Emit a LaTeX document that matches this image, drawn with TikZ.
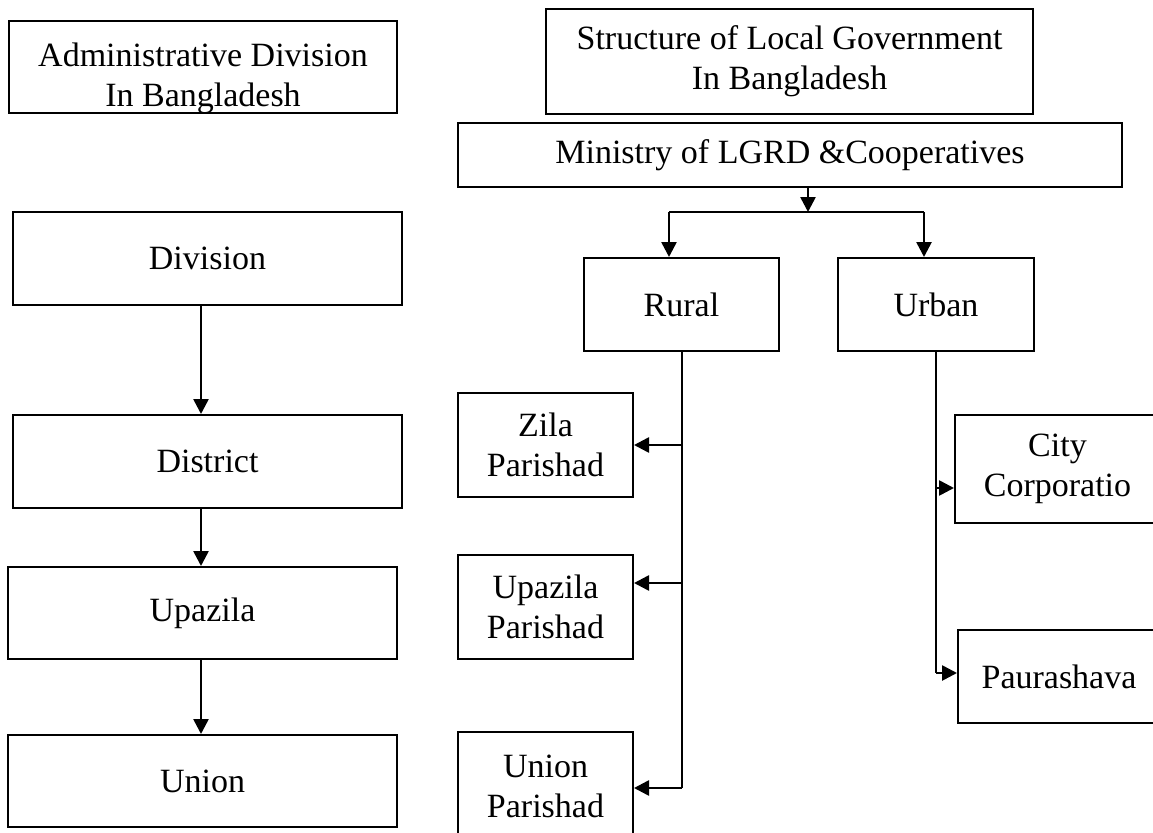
\documentclass[tikz,border=0pt]{standalone}
\usepackage{fontspec}
\setmainfont{Liberation Serif}
\usetikzlibrary{arrows.meta}
\begin{document}
\begin{tikzpicture}[x=1pt,y=-1pt,
  font=\fontsize{34}{40}\selectfont,
  box/.style 2 args={draw, line width=2pt, inner sep=0pt, align=center,
    minimum width=#1, minimum height=#2},
  arr/.style={line width=2.6pt, -{Triangle[length=15pt,width=15pt]}},
  ln/.style={line width=2pt}]
\fill[white] (0,0) rectangle (1153,832);
\useasboundingbox (0,0) rectangle (1153,832);
\clip (0,0) rectangle (1153,832);

% left column
\node[box={388pt}{92pt}, path picture={
  \node[anchor=base] (adminA) at ([yshift=-46pt]path picture bounding box.north) {Administrative Division};
  \node[anchor=base] (adminB) at ([yshift=-86pt]path picture bounding box.north) {In Bangladesh};
}] (admin) at (203,67) {};
\node[box={389pt}{93pt}] (div)  at (207.5,258.5) {Division};
\node[box={389pt}{93pt}] (dist) at (207.5,461.5) {District};
\node[box={389pt}{92pt}] (upa)  at (202.5,613) {Upazila};
\node[box={389pt}{92pt}] (uni)  at (202.5,781) {Union};

\coordinate (lx) at (201,0);
\draw[arr] (div.south -| lx)  -- (dist.north -| lx);
\draw[arr] (dist.south -| lx) -- (upa.north -| lx);
\draw[arr] (upa.south -| lx)  -- (uni.north -| lx);

% right part
\node[box={487pt}{105pt}] (struct) at (789.5,61.5) {Structure of Local Government\\In Bangladesh};
\node[box={664pt}{64pt}] (min) at (790,155) {Ministry of LGRD \&Cooperatives};
\node[box={195pt}{93pt}] (rural) at (681.5,304.5) {Rural};
\node[box={196pt}{93pt}] (urban) at (936,304.5) {Urban};

\node[box={175pt}{104pt}] (zila) at (545.5,445) {Zila\\Parishad};
\node[box={175pt}{104pt}] (upap) at (545.5,607) {Upazila\\Parishad};
\node[box={175pt}{108pt}] (unip) at (545.5,786) {Union\\Parishad};

\node[box={205pt}{108pt}] (city) at (1057.5,469) {City\\Corporatio};
\node[box={202pt}{93pt}] (paur) at (1059,676.5) {Paurashava};

% ministry to rural / urban
\coordinate (j)  at (808,212);
\coordinate (jl) at (669,212);
\coordinate (jr) at (924,212);
\draw[arr] (min.south -| j) -- (j);
\draw[ln] (jl) -- (jr);
\draw[arr] (jl) -- (jl |- rural.north);
\draw[arr] (jr) -- (jr |- urban.north);

% rural trunk
\coordinate (rz) at (681.5,445);
\coordinate (ru) at (681.5,583);
\coordinate (rn) at (681.5,788);
\draw[ln] (rural.south) -- (rn);
\draw[arr] (rz) -- (rz -| zila.east);
\draw[arr] (ru) -- (ru -| upap.east);
\draw[arr] (rn) -- (rn -| unip.east);

% urban trunk
\coordinate (uc) at (936,488);
\coordinate (up) at (936,673);
\draw[ln] (urban.south) -- (up);
\draw[arr] (uc) -- (uc -| city.west);
\draw[arr] (up) -- (up -| paur.west);
\end{tikzpicture}
\end{document}
